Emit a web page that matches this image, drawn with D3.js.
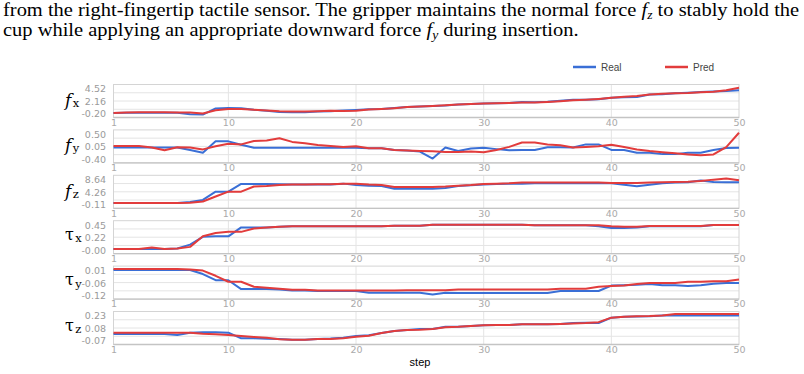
<!DOCTYPE html>
<html><head><meta charset="utf-8">
<script src="https://cdn.jsdelivr.net/npm/d3@7"></script>
<style>body{margin:0;background:#fff}svg{display:block}</style>
</head><body>
<svg id="c" width="804" height="374"></svg>
<script>
// ---- data ----
const steps = d3.range(1, 51);
const xTicks = [1, 10, 20, 30, 40, 50];
const panelNames = ["fx", "fy", "fz", "tx", "ty", "tz"];
const yTickLabels = [
  ["4.52", "2.16", "-0.20"],
  ["0.50", "0.05", "-0.40"],
  ["8.64", "4.26", "-0.11"],
  ["0.45", "0.22", "-0.00"],
  ["0.01", "-0.06", "-0.12"],
  ["0.23", "0.08", "-0.07"]
];
const seriesNames = ["Real", "Pred"];

const fxReal = [0.0,0.05,0.05,0.05,0.05,0.05,-0.25,-0.3,0.85,0.95,0.9,0.6,0.4,0.2,0.15,0.15,0.25,0.3,0.45,0.55,0.7,0.75,0.95,1.1,1.2,1.3,1.4,1.6,1.7,1.8,1.85,1.9,2.05,2.0,2.1,2.3,2.5,2.5,2.6,2.85,2.95,3.0,3.5,3.55,3.7,3.8,3.95,4.05,4.15,4.3];
const fxPred = [0.0,0.1,0.15,0.15,0.15,0.1,0.1,-0.1,0.5,0.75,0.75,0.6,0.45,0.3,0.25,0.25,0.3,0.4,0.35,0.4,0.65,0.75,0.9,1.1,1.2,1.3,1.45,1.6,1.7,1.8,1.85,1.9,1.95,1.95,2.05,2.2,2.4,2.5,2.65,2.85,3.05,3.2,3.5,3.6,3.7,3.75,3.9,4.0,4.3,4.75];

const fyReal = [0.03,0.03,0.03,0.03,0.03,0.03,-0.06,-0.16,0.25,0.25,0.13,0.02,0.02,0.02,0.02,0.02,0.02,0.02,0.02,0.02,0.0,0.0,-0.06,-0.08,-0.12,-0.37,0.03,-0.10,-0.01,0.02,-0.03,-0.07,-0.06,-0.06,0.04,0.04,0.03,0.14,0.14,-0.06,-0.06,-0.16,-0.16,-0.21,-0.21,-0.16,-0.16,-0.06,0.01,0.02];
const fyPred = [0.08,0.08,0.08,0.03,-0.07,0.04,0.03,-0.04,0.07,0.16,0.14,0.26,0.28,0.36,0.23,0.18,0.12,0.08,0.05,0.07,0.0,0.0,-0.06,-0.08,-0.10,-0.11,-0.13,-0.13,-0.12,-0.14,-0.06,0.05,0.21,0.21,0.14,0.11,0.03,0.05,0.07,0.13,0.05,-0.04,-0.10,-0.14,-0.18,-0.22,-0.25,-0.22,0.04,0.56];

const fzReal = [0.5,0.5,0.5,0.5,0.5,0.5,0.85,1.6,4.5,4.5,7.2,7.2,7.2,7.1,7.0,7.0,7.0,7.0,7.3,6.8,6.6,6.5,5.5,5.5,5.5,5.5,5.8,6.5,6.7,7.0,7.2,7.3,7.3,7.4,7.4,7.4,7.4,7.4,7.4,7.4,6.9,6.4,6.9,7.4,7.7,7.8,8.4,7.9,7.8,7.8];
const fzPred = [0.5,0.5,0.5,0.5,0.5,0.5,0.6,1.05,2.8,4.5,4.5,6.3,6.5,6.8,7.0,7.0,7.1,7.1,7.3,7.3,7.0,6.8,6.1,6.1,6.1,6.1,6.3,6.6,6.8,7.2,7.3,7.4,7.7,7.7,7.7,7.7,7.7,7.7,7.7,7.5,7.5,7.5,7.7,7.8,7.9,8.0,8.2,8.7,9.1,8.5];

const txReal = [0.02,0.02,0.02,0.02,0.02,0.03,0.10,0.24,0.25,0.25,0.41,0.41,0.41,0.42,0.43,0.43,0.43,0.43,0.43,0.43,0.43,0.43,0.44,0.44,0.44,0.46,0.46,0.46,0.46,0.46,0.46,0.46,0.46,0.45,0.45,0.45,0.45,0.45,0.43,0.40,0.40,0.41,0.43,0.43,0.43,0.43,0.43,0.455,0.455,0.455];
const txPred = [0.02,0.02,0.02,0.05,0.02,0.03,0.06,0.25,0.31,0.33,0.33,0.39,0.41,0.42,0.43,0.43,0.43,0.43,0.43,0.43,0.43,0.43,0.44,0.44,0.44,0.46,0.46,0.46,0.46,0.46,0.46,0.46,0.46,0.45,0.45,0.45,0.45,0.45,0.45,0.43,0.42,0.42,0.435,0.435,0.435,0.435,0.435,0.455,0.455,0.455];

const tyReal = [0.013,0.013,0.013,0.013,0.013,0.013,0.013,-0.008,-0.04,-0.04,-0.086,-0.086,-0.086,-0.088,-0.093,-0.093,-0.096,-0.096,-0.096,-0.096,-0.105,-0.105,-0.105,-0.105,-0.105,-0.114,-0.105,-0.107,-0.107,-0.107,-0.107,-0.107,-0.107,-0.107,-0.107,-0.096,-0.096,-0.096,-0.096,-0.068,-0.066,-0.064,-0.06,-0.066,-0.066,-0.07,-0.066,-0.058,-0.055,-0.055];
const tyPred = [0.018,0.018,0.018,0.018,0.018,0.018,0.016,0.01,-0.017,-0.048,-0.048,-0.074,-0.079,-0.084,-0.09,-0.09,-0.094,-0.094,-0.094,-0.094,-0.094,-0.094,-0.094,-0.092,-0.092,-0.092,-0.092,-0.088,-0.088,-0.088,-0.088,-0.088,-0.088,-0.088,-0.088,-0.084,-0.084,-0.084,-0.074,-0.07,-0.067,-0.06,-0.055,-0.054,-0.054,-0.048,-0.048,-0.046,-0.045,-0.036];

const tzReal = [0.014,0.014,0.014,0.014,0.014,0.002,0.03,0.034,0.034,0.03,-0.038,-0.038,-0.042,-0.046,-0.054,-0.054,-0.046,-0.04,-0.03,-0.01,0.0,0.026,0.05,0.062,0.074,0.074,0.10,0.10,0.11,0.118,0.122,0.122,0.13,0.13,0.13,0.134,0.146,0.15,0.146,0.21,0.22,0.225,0.228,0.235,0.235,0.235,0.235,0.235,0.235,0.235];
const tzPred = [0.03,0.03,0.03,0.03,0.03,0.03,0.03,0.018,0.01,0.002,-0.01,-0.022,-0.03,-0.05,-0.054,-0.054,-0.046,-0.046,-0.038,-0.018,-0.006,0.026,0.05,0.062,0.066,0.074,0.095,0.10,0.11,0.118,0.122,0.122,0.13,0.13,0.13,0.134,0.14,0.146,0.156,0.21,0.22,0.228,0.23,0.236,0.255,0.255,0.255,0.255,0.255,0.255];

const realSeries = [fxReal, fyReal, fzReal, txReal, tyReal, tzReal];
const predSeries = [fxPred, fyPred, fzPred, txPred, tyPred, tzPred];
const yLabelMain = ["f", "f", "f", "τ", "τ", "τ"];
const yLabelSub = ["x", "y", "z", "x", "y", "z"];
const colors = ["#3a6fd6", "#e23c3c"];

// ---- layout ----
const svg = d3.select("#c");
const left = 113.5, right = 739;
const top0 = 84.5, pitch = 45.4, frameH = 33;

// caption (Times-like, horizontally fitted; second line uses the first line's scale)
function captionLine(parts) {
  const g = svg.append("g");
  const t = g.append("text").attr("x", 0).attr("y", 0)
    .attr("font-family", "'Liberation Serif', 'Times New Roman', serif").attr("font-size", 18).attr("fill", "#000");
  parts.forEach(p => {
    const ts = t.append("tspan").text(p.t);
    if (p.i) ts.attr("font-style", "italic");
    if (p.sub) ts.attr("font-size", 12).attr("dy", 3);
    if (p.up) ts.attr("dy", -3);
  });
  return {g, w: t.node().getComputedTextLength()};
}
const c1 = captionLine([
  {t: "from the right-fingertip tactile sensor. The gripper maintains the normal force "},
  {t: "f", i: true}, {t: "z", i: true, sub: true}, {t: " to stably hold the", up: true}
]);
const c2 = captionLine([
  {t: "cup while applying an appropriate downward force "},
  {t: "f", i: true}, {t: "y", i: true, sub: true}, {t: " during insertion.", up: true}
]);
const capScale = 797 / c1.w;
c1.g.attr("transform", `translate(3,15.5) scale(${capScale},1)`);
c2.g.attr("transform", `translate(3,35.5) scale(${capScale},1)`);

// legend
const leg = svg.append("g").attr("font-family", "'Liberation Sans', Arial, sans-serif").attr("font-size", 10);
[[573, 601], [665, 693]].forEach((p, i) => {
  leg.append("line").attr("x1", p[0]).attr("x2", p[0] + 23).attr("y1", 67).attr("y2", 67)
    .attr("stroke", colors[i]).attr("stroke-width", 2.5);
  leg.append("text").attr("x", p[1]).attr("y", 70.5).attr("fill", "#444").text(seriesNames[i]);
});

const x = d3.scaleLinear().domain([1, 50]).range([left, right]);

panelNames.forEach((name, i) => {
  const top = top0 + i * pitch;
  const labs = yTickLabels[i];
  const vmax = +labs[0], vmin = +labs[2];
  const y = d3.scaleLinear().domain([vmin, vmax]).range([top + 29.5, top + 4.5]);
  const g = svg.append("g");
  // gridlines
  for (let k = 1; k < 4; k++) {
    g.append("line").attr("x1", left).attr("x2", right)
      .attr("y1", top + k * frameH / 4).attr("y2", top + k * frameH / 4)
      .attr("stroke", "#e4e4e4").attr("stroke-width", 1);
  }
  [10, 20, 30, 40].forEach(t => {
    g.append("line").attr("x1", x(t)).attr("x2", x(t)).attr("y1", top).attr("y2", top + frameH)
      .attr("stroke", "#e4e4e4").attr("stroke-width", 1);
  });
  g.append("rect").attr("x", left).attr("y", top).attr("width", right - left).attr("height", frameH)
    .attr("fill", "none").attr("stroke", "#d4d4d4").attr("stroke-width", 1);
  g.append("line").attr("x1", left).attr("x2", right).attr("y1", top + frameH).attr("y2", top + frameH)
    .attr("stroke", "#c4c4c4").attr("stroke-width", 1.3);
  // y tick labels
  labs.forEach((t, k) => {
    g.append("text").attr("x", 106).attr("y", y(+t)).attr("dy", "0.35em").attr("text-anchor", "end")
      .attr("font-family", "'DejaVu Sans', sans-serif").attr("font-size", 9.5).attr("fill", "#9a9a9a").text(t);
  });
  // x tick labels
  const xa = d3.axisBottom(x).tickValues(xTicks).tickSize(0).tickPadding(0);
  const ax = g.append("g").attr("transform", `translate(0,${top + frameH + 1.5})`).call(xa);
  ax.select(".domain").remove();
  ax.selectAll("text").attr("font-family", "'DejaVu Sans', sans-serif").attr("font-size", 9.5).attr("fill", "#aaaaaa");
  // y label
  const yl = g.append("text").attr("x", 65).attr("y", top + (i < 3 ? 21.5 : 19)).attr("font-family", "'DejaVu Serif', serif").attr("fill", "#000");
  yl.append("tspan").attr("font-size", i < 3 ? 17 : 16).attr("font-style", i < 3 ? "italic" : "normal").text(yLabelMain[i]);
  yl.append("tspan").attr("font-size", 11.5).attr("dx", 1.5).attr("dy", i < 3 ? 1 : 2.5).text(yLabelSub[i]);
  // lines
  const line = d3.line().x((d, j) => x(steps[j])).y(d => y(d));
  [realSeries[i], predSeries[i]].forEach((s, k) => {
    g.append("path").datum(s).attr("d", line).attr("fill", "none")
      .attr("stroke", colors[k]).attr("stroke-width", 2).attr("stroke-linejoin", "round");
  });
});

// x axis title
svg.append("text").attr("x", 420).attr("y", 366).attr("text-anchor", "middle")
  .attr("font-family", "'Liberation Sans', Arial, sans-serif").attr("font-size", 11).attr("fill", "#000").text("step");
</script>
</body></html>
